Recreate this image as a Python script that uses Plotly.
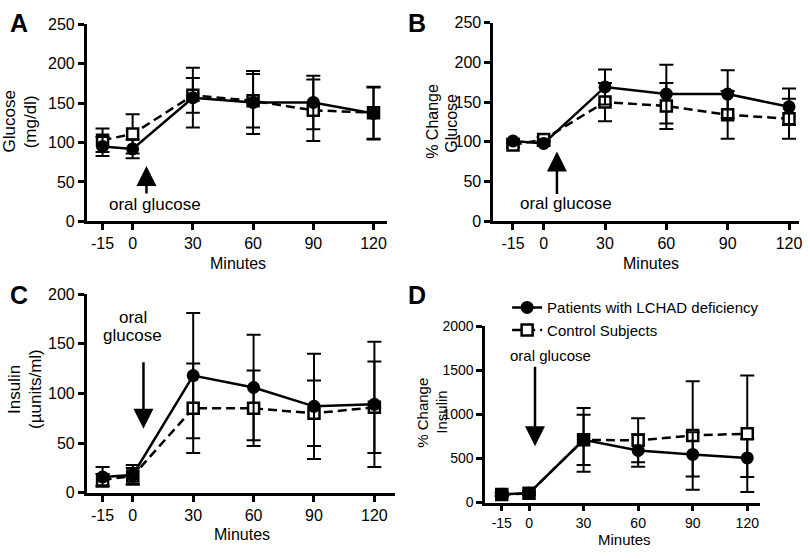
import plotly.graph_objects as go

# ---------------- data ----------------
minutes = [-15, 0, 30, 60, 90, 120]
tick_labels = ["-15", "0", "30", "60", "90", "120"]

# Panel A: Glucose (mg/dl)
glu_pat = [95, 92, 157, 151, 151, 137]
glu_pat_sd = [12, 12, 38, 40, 34, 33]
glu_ctl = [103, 111, 160, 153, 141, 138]
glu_ctl_sd = [15, 25, 22, 34, 39, 33]

# Panel B: % Change Glucose
pglu_pat = [101, 98, 169, 160, 160, 144]
pglu_pat_sd = [3, 3, 22, 37, 30, 23]
pglu_ctl = [96, 103, 150, 145, 134, 129]
pglu_ctl_sd = [3, 3, 24, 29, 30, 25]

# Panel C: Insulin (uunits/ml)
ins_pat = [16, 18, 118, 106, 87, 89]
ins_pat_sd = [10, 10, 63, 53, 53, 63]
ins_ctl = [13, 17, 85, 85, 80, 86]
ins_ctl_sd = [6, 8, 45, 38, 33, 46]

# Panel D: % Change Insulin
pins_pat = [95, 105, 710, 590, 545, 505]
pins_pat_sd = [20, 20, 360, 185, 250, 215]
pins_ctl = [90, 105, 710, 705, 760, 780]
pins_ctl_sd = [20, 20, 285, 250, 615, 660]

pat_name = "Patients with LCHAD deficiency"
ctl_name = "Control Subjects"

W, H = 810, 560
FONT = "Liberation Sans, Arial, Helvetica, sans-serif"


def X(px):
    return px / W


def Y(py):
    return 1 - py / H


fig = go.Figure()

panels = [
    ("x", "y", glu_pat, glu_pat_sd, glu_ctl, glu_ctl_sd, False),
    ("x2", "y2", pglu_pat, pglu_pat_sd, pglu_ctl, pglu_ctl_sd, False),
    ("x3", "y3", ins_pat, ins_pat_sd, ins_ctl, ins_ctl_sd, False),
    ("x4", "y4", pins_pat, pins_pat_sd, pins_ctl, pins_ctl_sd, True),
]

for xa, ya, pat, pat_sd, ctl, ctl_sd, leg in panels:
    fig.add_trace(go.Scatter(
        x=minutes, y=ctl, xaxis=xa, yaxis=ya, name=ctl_name,
        mode="lines+markers", showlegend=leg, legendrank=2,
        line=dict(color="black", width=2.5, dash="9px,5px"),
        marker=dict(symbol="square", size=11, color="white",
                    line=dict(color="black", width=2.5)),
        error_y=dict(type="data", array=ctl_sd, visible=True,
                     color="black", thickness=2, width=7),
    ))
    fig.add_trace(go.Scatter(
        x=minutes, y=pat, xaxis=xa, yaxis=ya, name=pat_name,
        mode="lines+markers", showlegend=leg, legendrank=1,
        line=dict(color="black", width=2.5),
        marker=dict(symbol="circle", size=13, color="black"),
        error_y=dict(type="data", array=pat_sd, visible=True,
                     color="black", thickness=2, width=7),
    ))

axis_common = dict(
    showline=True, linewidth=2.5, linecolor="black", mirror=False,
    ticks="outside", ticklen=6, tickwidth=2.5, tickcolor="black",
    showgrid=False, zeroline=False,
)

geo = {
    "": dict(l=87, r=388, t=17, b=220, xr=[-22.9, 126.5], yr=[0, 250], dy=50, fs=16),
    "2": dict(l=495, r=802, t=15, b=220, xr=[-24.7, 124.9], yr=[0, 250], dy=50, fs=16),
    "3": dict(l=87, r=396, t=295, b=500, xr=[-22.9, 130.0], yr=[0, 200], dy=50, fs=16),
    "4": dict(l=487, r=763, t=328, b=510, xr=[-24.1, 127.1], yr=[0, 2000], dy=500, fs=14),
}

layout_axes = {}
for k, g in geo.items():
    tf = dict(family=FONT, size=g["fs"], color="black")
    xa = dict(axis_common)
    xa.update(domain=[X(g["l"]), X(g["r"])], range=g["xr"],
              tickmode="array", tickvals=minutes, ticktext=tick_labels,
              anchor="y" + k, tickfont=tf)
    ya = dict(axis_common)
    ya.update(domain=[Y(g["b"]), Y(g["t"])], range=g["yr"],
              tickmode="linear", tick0=0, dtick=g["dy"], anchor="x" + k,
              tickfont=tf)
    layout_axes["xaxis" + k] = xa
    layout_axes["yaxis" + k] = ya

annotations = []


def txt(text, px, py, size, bold=False, angle=0):
    if bold:
        text = "<b>" + text + "</b>"
    annotations.append(dict(
        text=text, x=X(px), y=Y(py), xref="paper", yref="paper",
        xanchor="center", yanchor="middle", showarrow=False,
        textangle=angle, font=dict(family=FONT, size=size, color="black"),
    ))


def arrow(px, tip_y, tail_y):
    annotations.append(dict(
        text="", x=X(px), y=Y(tip_y), ax=0, ay=tail_y - tip_y,
        xref="paper", yref="paper", axref="pixel", ayref="pixel",
        showarrow=True, arrowhead=2, arrowsize=1.6, arrowwidth=2.5,
        arrowcolor="black", standoff=0,
    ))


txt("A", 19, 15, 25, bold=True)
txt("B", 419, 15, 25, bold=True)
txt("C", 19, 296, 25, bold=True)
txt("D", 419, 296, 25, bold=True)

txt("Glucose", 9, 117, 17, angle=-90)
txt("(mg/dl)", 31, 117, 17, angle=-90)
txt("% Change", 434, 117, 16, angle=-90)
txt("Glucose", 453, 119, 16, angle=-90)
txt("Insulin", 14, 393, 17, angle=-90)
txt("(\u00b5units/ml)", 35, 393, 17, angle=-90)
txt("% Change", 424, 417, 15, angle=-90)
txt("Insulin", 443, 417, 15, angle=-90)

txt("Minutes", 239, 263, 16)
txt("Minutes", 653, 263, 16)
txt("Minutes", 243, 543, 16)
txt("Minutes", 627, 548, 15)

txt("oral glucose", 156, 203, 17)
arrow(147, 163, 192)
txt("oral glucose", 568, 202, 17)
arrow(559, 148, 192)
txt("oral", 133, 319, 17)
txt("glucose", 133, 338, 17)
arrow(144, 434, 366)
txt("oral glucose", 553, 358, 15)
arrow(537, 452, 371)

fig.update_layout(
    width=W, height=H,
    margin=dict(l=0, r=0, t=0, b=0),
    paper_bgcolor="white", plot_bgcolor="white",
    font=dict(family=FONT, color="black"),
    showlegend=True,
    legend=dict(x=X(509), y=Y(292), xanchor="left", yanchor="top",
                bgcolor="rgba(0,0,0,0)", borderwidth=0,
                font=dict(family=FONT, size=15, color="black"),
                tracegroupgap=0, itemwidth=30),
    annotations=annotations,
    **layout_axes,
)

fig.write_html(
    "out.html",
    config={"displayModeBar": False},
    post_script="document.body.style.margin='0px';document.body.style.overflow='hidden';",
)
